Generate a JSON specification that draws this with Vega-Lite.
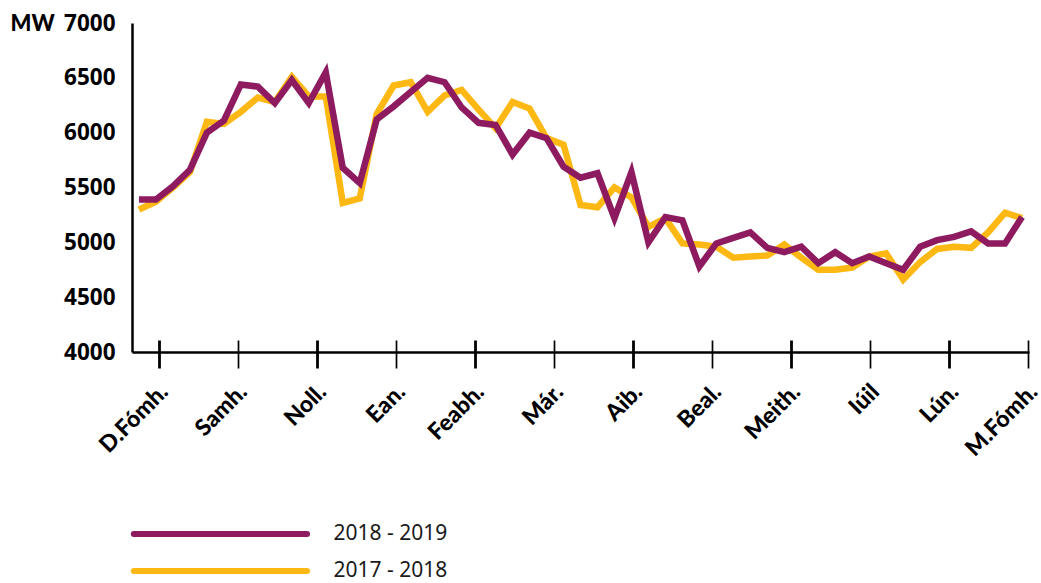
{
  "$schema": "https://vega.github.io/schema/vega-lite/v6.json",
  "width": 897,
  "height": 329,
  "autosize": {"type": "none"},
  "padding": {"left": 132, "top": 23, "right": 12, "bottom": 231},
  "background": "white",
  "config": {"view": {"stroke": null}, "axis": {"grid": false}},
  "data": {"values": [
    {"w":0,"s":"2018 - 2019","v":5390},{"w":1,"s":"2018 - 2019","v":5390},{"w":2,"s":"2018 - 2019","v":5510},{"w":3,"s":"2018 - 2019","v":5660},{"w":4,"s":"2018 - 2019","v":6000},{"w":5,"s":"2018 - 2019","v":6110},{"w":6,"s":"2018 - 2019","v":6440},{"w":7,"s":"2018 - 2019","v":6420},{"w":8,"s":"2018 - 2019","v":6270},{"w":9,"s":"2018 - 2019","v":6480},{"w":10,"s":"2018 - 2019","v":6270},{"w":11,"s":"2018 - 2019","v":6550},{"w":12,"s":"2018 - 2019","v":5680},{"w":13,"s":"2018 - 2019","v":5540},{"w":14,"s":"2018 - 2019","v":6120},{"w":15,"s":"2018 - 2019","v":6240},{"w":16,"s":"2018 - 2019","v":6370},{"w":17,"s":"2018 - 2019","v":6500},{"w":18,"s":"2018 - 2019","v":6460},{"w":19,"s":"2018 - 2019","v":6230},{"w":20,"s":"2018 - 2019","v":6090},{"w":21,"s":"2018 - 2019","v":6070},{"w":22,"s":"2018 - 2019","v":5800},{"w":23,"s":"2018 - 2019","v":6000},{"w":24,"s":"2018 - 2019","v":5950},{"w":25,"s":"2018 - 2019","v":5690},{"w":26,"s":"2018 - 2019","v":5590},{"w":27,"s":"2018 - 2019","v":5630},{"w":28,"s":"2018 - 2019","v":5220},{"w":29,"s":"2018 - 2019","v":5640},{"w":30,"s":"2018 - 2019","v":5000},{"w":31,"s":"2018 - 2019","v":5230},{"w":32,"s":"2018 - 2019","v":5200},{"w":33,"s":"2018 - 2019","v":4780},{"w":34,"s":"2018 - 2019","v":4990},{"w":35,"s":"2018 - 2019","v":5040},{"w":36,"s":"2018 - 2019","v":5090},{"w":37,"s":"2018 - 2019","v":4950},{"w":38,"s":"2018 - 2019","v":4910},{"w":39,"s":"2018 - 2019","v":4960},{"w":40,"s":"2018 - 2019","v":4810},{"w":41,"s":"2018 - 2019","v":4910},{"w":42,"s":"2018 - 2019","v":4810},{"w":43,"s":"2018 - 2019","v":4870},{"w":44,"s":"2018 - 2019","v":4810},{"w":45,"s":"2018 - 2019","v":4750},{"w":46,"s":"2018 - 2019","v":4960},{"w":47,"s":"2018 - 2019","v":5020},{"w":48,"s":"2018 - 2019","v":5050},{"w":49,"s":"2018 - 2019","v":5100},{"w":50,"s":"2018 - 2019","v":4990},{"w":51,"s":"2018 - 2019","v":4990},{"w":52,"s":"2018 - 2019","v":5230},
    {"w":0,"s":"2017 - 2018","v":5300},{"w":1,"s":"2017 - 2018","v":5370},{"w":2,"s":"2017 - 2018","v":5500},{"w":3,"s":"2017 - 2018","v":5640},{"w":4,"s":"2017 - 2018","v":6100},{"w":5,"s":"2017 - 2018","v":6080},{"w":6,"s":"2017 - 2018","v":6190},{"w":7,"s":"2017 - 2018","v":6320},{"w":8,"s":"2017 - 2018","v":6280},{"w":9,"s":"2017 - 2018","v":6510},{"w":10,"s":"2017 - 2018","v":6330},{"w":11,"s":"2017 - 2018","v":6330},{"w":12,"s":"2017 - 2018","v":5360},{"w":13,"s":"2017 - 2018","v":5400},{"w":14,"s":"2017 - 2018","v":6170},{"w":15,"s":"2017 - 2018","v":6430},{"w":16,"s":"2017 - 2018","v":6460},{"w":17,"s":"2017 - 2018","v":6190},{"w":18,"s":"2017 - 2018","v":6340},{"w":19,"s":"2017 - 2018","v":6390},{"w":20,"s":"2017 - 2018","v":6210},{"w":21,"s":"2017 - 2018","v":6040},{"w":22,"s":"2017 - 2018","v":6280},{"w":23,"s":"2017 - 2018","v":6220},{"w":24,"s":"2017 - 2018","v":5950},{"w":25,"s":"2017 - 2018","v":5890},{"w":26,"s":"2017 - 2018","v":5340},{"w":27,"s":"2017 - 2018","v":5320},{"w":28,"s":"2017 - 2018","v":5500},{"w":29,"s":"2017 - 2018","v":5410},{"w":30,"s":"2017 - 2018","v":5140},{"w":31,"s":"2017 - 2018","v":5220},{"w":32,"s":"2017 - 2018","v":4990},{"w":33,"s":"2017 - 2018","v":4980},{"w":34,"s":"2017 - 2018","v":4960},{"w":35,"s":"2017 - 2018","v":4860},{"w":36,"s":"2017 - 2018","v":4870},{"w":37,"s":"2017 - 2018","v":4880},{"w":38,"s":"2017 - 2018","v":4980},{"w":39,"s":"2017 - 2018","v":4860},{"w":40,"s":"2017 - 2018","v":4750},{"w":41,"s":"2017 - 2018","v":4750},{"w":42,"s":"2017 - 2018","v":4770},{"w":43,"s":"2017 - 2018","v":4870},{"w":44,"s":"2017 - 2018","v":4900},{"w":45,"s":"2017 - 2018","v":4660},{"w":46,"s":"2017 - 2018","v":4820},{"w":47,"s":"2017 - 2018","v":4940},{"w":48,"s":"2017 - 2018","v":4960},{"w":49,"s":"2017 - 2018","v":4950},{"w":50,"s":"2017 - 2018","v":5090},{"w":51,"s":"2017 - 2018","v":5270},{"w":52,"s":"2017 - 2018","v":5220}
  ]},
  "resolve": {"axis": {"x": "independent"}},
  "encoding": {
    "y": {
      "field": "v", "type": "quantitative",
      "scale": {"domain": [4000, 7000], "nice": false, "zero": false},
      "axis": {
        "values": [4000, 4500, 5000, 5500, 6000, 6500, 7000], "format": "d",
        "title": "MW", "titleAngle": 0, "titleX": -122, "titleY": 0,
        "titleAlign": "left", "titleBaseline": "middle",
        "titleFont": "Lato", "titleFontWeight": 900, "titleFontSize": 22, "titleColor": "black",
        "ticks": false, "grid": false,
        "labelPadding": 17, "labelFont": "Noto Sans", "labelFontWeight": "bold", "labelFontSize": 22.5, "labelColor": "black",
        "domainColor": "black", "domainWidth": 2.5
      }
    }
  },
  "layer": [
    {
      "transform": [{"filter": "datum.s == '2017 - 2018'"}],
      "mark": {"type": "line", "strokeWidth": 6.5, "strokeJoin": "miter"},
      "encoding": {
        "x": {
          "field": "w", "type": "quantitative",
          "scale": {"domain": [-0.41, 52.41], "nice": false, "zero": false},
          "axis": {
            "orient": "bottom", "offset": -12,
            "values": [1.18, 5.83, 10.49, 15.14, 19.79, 24.45, 29.10, 33.76, 38.41, 43.06, 47.72, 52.37],
            "title": null, "domain": false, "labels": false, "grid": false,
            "ticks": true, "tickSize": 28, "tickColor": "black",
            "tickWidth": {"condition": {"test": "indexof([1.18, 10.49, 19.79, 29.1, 38.41, 47.72], datum.value) >= 0", "value": 2.8}, "value": 1.7}
          }
        },
        "color": {"field": "s", "type": "nominal"}
      }
    },
    {
      "transform": [{"filter": "datum.s == '2018 - 2019'"}],
      "mark": {"type": "line", "strokeWidth": 6.5, "strokeJoin": "miter"},
      "encoding": {
        "x": {
          "field": "w", "type": "quantitative",
          "scale": {"domain": [-0.41, 52.41], "nice": false, "zero": false},
          "axis": {
            "orient": "bottom",
            "values": [1.18, 5.83, 10.49, 15.14, 19.79, 24.45, 29.10, 33.76, 38.41, 43.06, 47.72, 52.37],
            "labelExpr": "['D.Fómh.','Samh.','Noll.','Ean.','Feabh.','Már.','Aib.','Beal.','Meith.','Iúil','Lún.','M.Fómh.'][round((datum.value-1.18)/4.654)]",
            "title": null, "ticks": false, "grid": false,
            "domainColor": "black", "domainWidth": 2.5,
            "labelAngle": -45, "labelAlign": "right", "labelBaseline": "middle",
            "labelFont": "Lato", "labelFontWeight": 900, "labelFontSize": 23, "labelColor": "black",
            "labelPadding": 36, "labelOffset": 5, "labelOverlap": false, "labelFlush": false, "labelBound": false
          }
        },
        "color": {
          "field": "s", "type": "nominal",
          "scale": {"domain": ["2018 - 2019", "2017 - 2018"], "range": ["#8E1A5F", "#FDB813"]},
          "legend": {
            "orient": "none", "legendX": 76.4, "legendY": 499, "title": null, "direction": "vertical",
            "symbolType": "M-10,0H10", "symbolSize": 300, "symbolStrokeWidth": 6,
            "labelFont": "Noto Sans", "labelFontSize": 21, "labelColor": "#1a1a1a",
            "labelOffset": 101, "rowPadding": 13, "padding": 0,
            "encode": {"symbols": {"update": {"strokeCap": {"value": "round"}}}}
          }
        }
      }
    }
  ]
}
